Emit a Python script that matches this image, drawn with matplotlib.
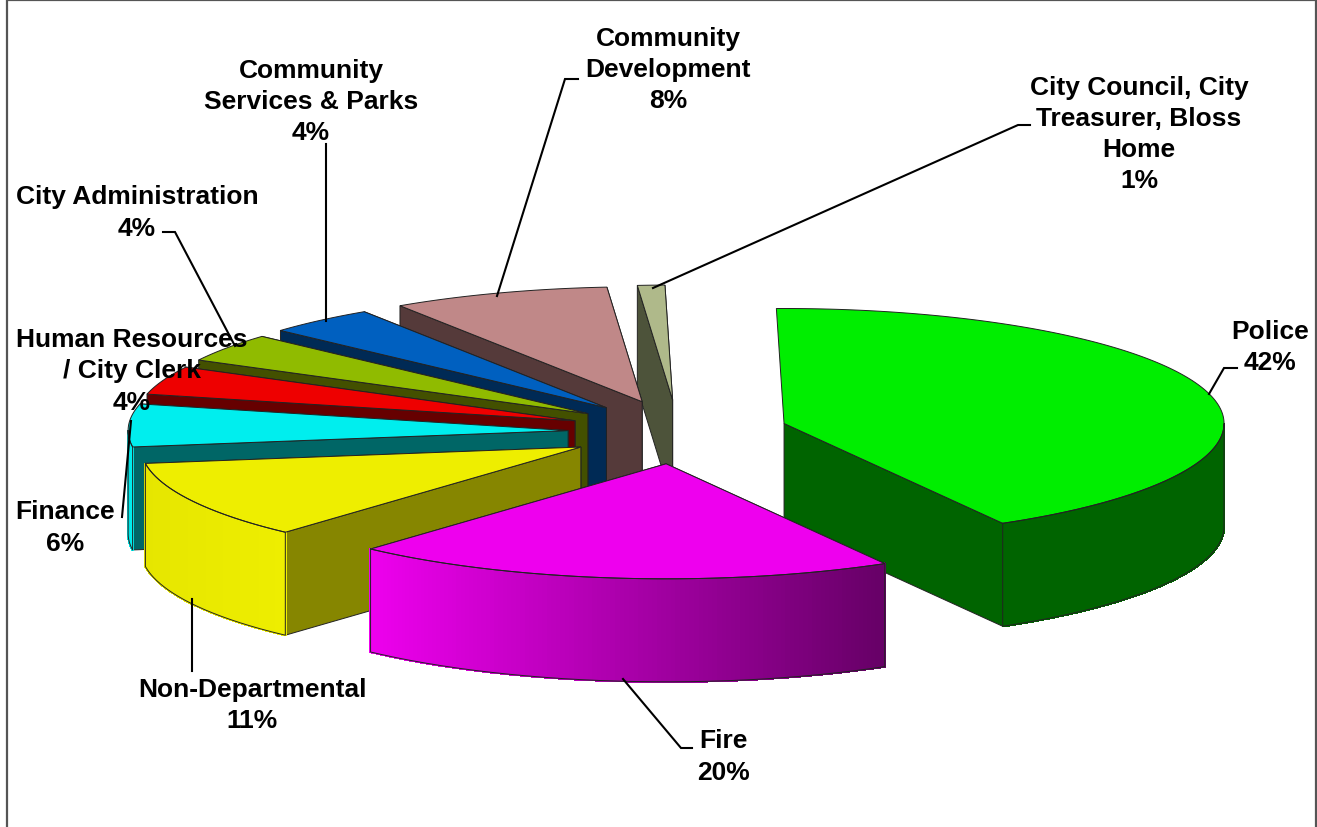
#!/usr/bin/env python3

import numpy as np
import matplotlib
matplotlib.use('Agg')
import matplotlib.pyplot as plt

# Slices run clockwise from just past twelve o'clock
names = ['Police', 'Fire', 'Non-Departmental', 'Finance',
         'Human Resources\n/ City Clerk', 'City Administration',
         'Community\nServices & Parks', 'Community\nDevelopment',
         'City Council, City\nTreasurer, Bloss\nHome']
values = [42, 20, 11, 6, 4, 4, 4, 8, 1]
top_colors = ['#00ee00', '#ee00ee', '#eeee00', '#00eeee', '#ee0000',
              '#90bb00', '#0060c0', '#c08888', '#afb98a']
wall_colors = ['#006400', '#660066', '#868600', '#006666', '#660000',
               '#435000', '#002a55', '#553a3a', '#4d533a']
# Outer rim colour at its left and right ends
rim_colors = [('#006400', '#006400'), ('#ee00ee', '#660066'), ('#e6e600', '#eeee00'),
              ('#00d8d8', '#00eeee'), ('#660000', '#660000'), ('#435000', '#435000'),
              ('#002a55', '#002a55'), ('#553a3a', '#553a3a'), ('#4d533a', '#4d533a')]

# Label centres and leader lines, in pixels
label_pos = [(1270, 347.5), (723, 757), (252, 705.5), (65, 528), (132, 371.5),
             (137, 213), (311, 102), (668, 70), (1139, 134.5)]
leaders = [[(1209, 395), (1224, 369), (1237, 369)],
           [(623, 680), (681, 749), (692, 749)],
           [(192, 600), (192, 672)],
           [(131, 422), (122, 518)],
           [],
           [(235, 347), (175, 233), (163, 233)],
           [(326, 322), (326, 145)],
           [(497, 297), (565, 80), (578, 80)],
           [(653, 289), (1018, 126), (1030, 126)]]

cx, cy = 678, 433
rx, ry = 440, 115
depth = 103
explode_x, explode_y = 110, 32
start_angle = 91
draw_order = [8, 7, 6, 5, 4, 3, 2, 0, 1]


def rim(t, ox, oy):
    return ox + rx * np.cos(t), oy - ry * np.sin(t)


def blend(c0, c1, f):
    a = np.array(matplotlib.colors.to_rgb(c0))
    b = np.array(matplotlib.colors.to_rgb(c1))
    return tuple(a + (b - a) * f)


fig = plt.figure(figsize=(13.17, 8.28), dpi=100)
ax = fig.add_axes([0, 0, 1, 1])
ax.set_xlim(0, 1317)
ax.set_ylim(828, 0)
ax.axis('off')

# frame has no bottom edge
ax.plot([7, 7, 1316, 1316], [828, 1, 1, 828], color='#555555', lw=1.6)

edges = start_angle - np.cumsum([0] + values) * 3.6

for i in draw_order:
    t0, t1 = np.radians(edges[i]), np.radians(edges[i + 1])
    mid = (t0 + t1) / 2
    ox = cx + explode_x * np.cos(mid)
    oy = cy - explode_y * np.sin(mid)

    # radial walls, the one further back goes down first
    walls = sorted([t0, t1], key=lambda t: np.sin(t), reverse=True)
    for t in walls:
        # a wall this close to edge-on would only be a sliver
        if i == 0 and t == t0:
            continue
        x, y = rim(t, ox, oy)
        ax.fill([ox, x, x, ox], [oy, y, y + depth, oy + depth],
                facecolor=wall_colors[i], edgecolor='#222222', lw=0.7)

    # outer rim, only the front half of the ellipse shows
    lo, hi = max(t1, -np.pi), min(t0, 0)
    if hi > lo:
        ts = np.linspace(lo, hi, 120)
        xs, ys = rim(ts, ox, oy)
        x_lo, x_hi = xs.min(), xs.max()
        for k in range(len(ts) - 1):
            f = ((xs[k] + xs[k + 1]) / 2 - x_lo) / max(x_hi - x_lo, 1)
            c = blend(rim_colors[i][0], rim_colors[i][1], f)
            ax.fill([xs[k], xs[k + 1], xs[k + 1], xs[k]],
                    [ys[k], ys[k + 1], ys[k + 1] + depth, ys[k] + depth],
                    facecolor=c, edgecolor=c, lw=1, antialiased=False)
        ax.plot(np.r_[xs, xs[::-1], xs[0]], np.r_[ys, ys[::-1] + depth, ys[0]],
                color='#222222', lw=0.7)

    # top face
    ts = np.linspace(t0, t1, 200)
    xs, ys = rim(ts, ox, oy)
    ax.fill(np.r_[ox, xs], np.r_[oy, ys], facecolor=top_colors[i],
            edgecolor='#222222', lw=0.7)

for line in leaders:
    if line:
        ax.plot(*zip(*line), color='black', lw=1.5, solid_joinstyle='miter')

for name, value, (x, y) in zip(names, values, label_pos):
    ax.text(x, y, '%s\n%d%%' % (name, value), ha='center', va='center',
            ma='center', fontsize=19, fontweight='bold',
            family='Liberation Sans', linespacing=1.37, color='black')

fig.savefig('out.png', dpi=100, facecolor='white')
